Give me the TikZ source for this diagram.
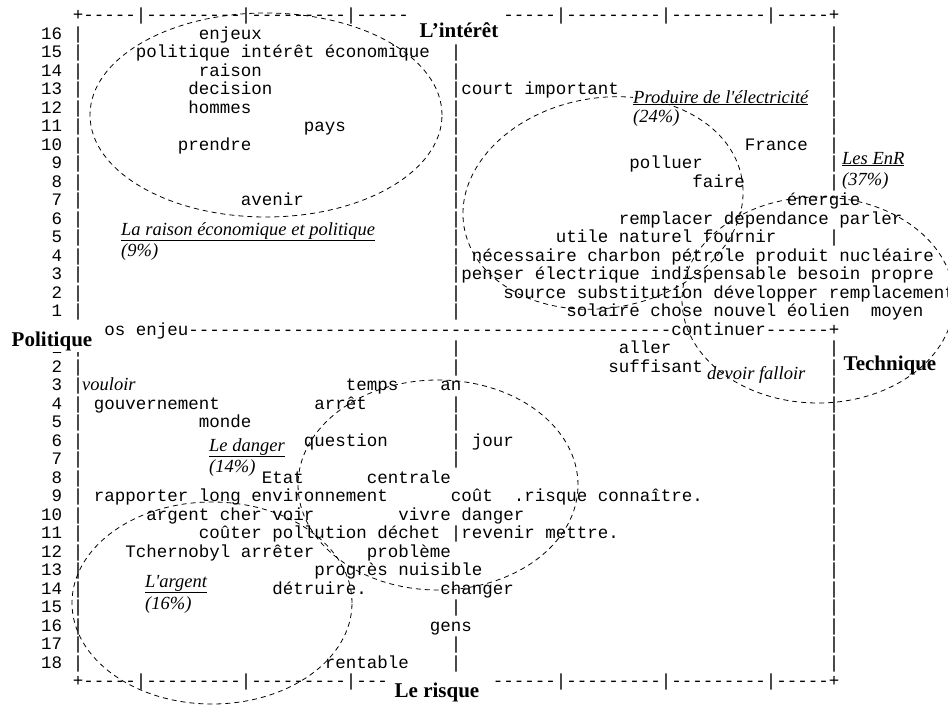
\documentclass[tikz,border=0pt]{standalone}
\usepackage{fontspec}
\setmainfont{Liberation Serif}
\newfontfamily\asciifont{Liberation Mono}
\newfontfamily\labelfont{Liberation Serif}

\begin{document}
\begin{tikzpicture}[x=1pt, y=-1pt,
  asc/.style={font=\fontsize{17.5}{18.5}\asciifont, inner sep=0pt, anchor=base west},
  rownum/.style={asc, anchor=base east},
  axisname/.style={font=\fontsize{21}{21}\selectfont\bfseries, fill=white, inner sep=1.5pt},
  classname/.style={font=\fontsize{18.5}{20}\labelfont\itshape, inner sep=0pt, anchor=base west},
  classline/.style={dash pattern=on 5pt off 4pt, line width=0.8pt}]
\useasboundingbox (0,0) rectangle (948,707);

% words of the plane: column/row/text
\foreach \c/\r/\t [count=\i] in {
  12/1/enjeux, 6/2/politique intérêt économique, 12/3/raison,
  11/4/decision, 37/4/court important, 11/5/hommes, 22/6/pays,
  10/7/prendre, 64/7/France, 53/8/polluer, 59/9/faire,
  16/10/avenir, 68/10/énergie, 52/11/remplacer dépendance parler,
  46/12/utile naturel fournir,
  38/13/nécessaire charbon pétrole produit nucléaire,
  37/14/penser électrique indispensable besoin propre,
  41/15/source substitution développer remplacement,
  47/16/solaire chose nouvel éolien, 76/16/moyen,
  52/18/aller, 51/19/suffisant, 26/20/temps, 35/20/an,
  2/21/gouvernement, 23/21/arrêt, 12/22/monde, 22/23/question, 38/23/jour,
  18/25/Etat, 28/25/centrale,
  2/26/rapporter long environnement, 36/26/coût, 42/26/.risque connaître.,
  7/27/argent cher voir, 31/27/vivre danger,
  12/28/coûter pollution déchet, 37/28/revenir mettre.,
  5/29/Tchernobyl arrêter, 28/29/problème, 23/30/progrès nuisible,
  19/31/détruire., 35/31/changer, 34/33/gens, 24/35/rentable}
  \node[asc] (w\i) at ({72.75+10.5*\c},{20.5+18.5*\r}) {\t};

% frame and axes
\node[asc] (topleft) at (72.75,20.5) {+-----|---------|---------|-----};
\node[asc] (topright) at ({72.75+10.5*41},20.5) {-----|---------|---------|-----+};
\node[asc] (botleft) at (72.75,{20.5+18.5*36}) {+-----|---------|---------|---};
\node[asc] (botright) at ({72.75+10.5*40},{20.5+18.5*36}) {------|---------|---------|-----+};
\node[asc] (hline) at ({72.75+10.5*3},{20.5+18.5*17}) {os enjeu----------------------------------------------continuer------+};
\foreach \r in {1,...,16,18,19,...,35}
  \node[asc] (left\r) at (72.75,{20.5+18.5*\r}) {|};
\foreach \r in {2,...,16,18,19,21,22,23,24,28,32,34,35}
  \node[asc] (mid\r) at ({72.75+10.5*36},{20.5+18.5*\r}) {|};
\foreach \r in {1,...,9,12,18,19,...,35}
  \node[asc] (right\r) at ({72.75+10.5*72},{20.5+18.5*\r}) {|};
\foreach \r in {1,...,16}{
  \pgfmathtruncatemacro\n{17-\r}
  \node[rownum] (num\r) at (62.25,{20.5+18.5*\r}) {\n};
}
\foreach \r in {18,...,35}{
  \pgfmathtruncatemacro\n{\r-17}
  \node[rownum] (num\r) at (62.25,{20.5+18.5*\r}) {\n};
}

% axis names
\node[axisname] (interet) at (459,30) {L’intérêt};
\node[axisname, anchor=base] (politique) at (52,346) {Politique};
\node[axisname] (technique) at (890,365) {Technique};
\node[axisname] (risque) at (437,692) {Le risque};
\node[classname] (vouloir) at (82,390) {vouloir};
\node[classname] (devoir) at (707,379) {devoir falloir};

% classes
\draw[classline] (266,115) ellipse [x radius=176pt, y radius=102pt];
\draw[classline, rotate around={10:(603,203)}] (603,203) ellipse [x radius=141pt, y radius=105pt];
\draw[classline] (818,300) ellipse [x radius=136pt, y radius=103pt];
\draw[classline] (438,485) ellipse [x radius=140pt, y radius=105pt];
\draw[classline] (212,603) ellipse [x radius=140pt, y radius=101pt];

% class names
\node[classname, fill=white] (produire) at (633,103) {\underline{Produire de l'électricité}};
\node[classname, fill=white] (produirepct) at (633,122) {(24\%)};
\node[classname] (enr) at (842,164) {\underline{Les EnR}};
\node[classname] (enrpct) at (842,185) {(37\%)};
\node[classname] (raison) at (121,235) {\underline{La raison économique et politique}};
\node[classname] (raisonpct) at (121,256) {(9\%)};
\node[classname] (danger) at (209,451) {\underline{Le danger}};
\node[classname] (dangerpct) at (209,472) {(14\%)};
\node[classname] (argent) at (145,587) {\underline{L'argent}};
\node[classname] (argentpct) at (145,609) {(16\%)};
\end{tikzpicture}
\end{document}
